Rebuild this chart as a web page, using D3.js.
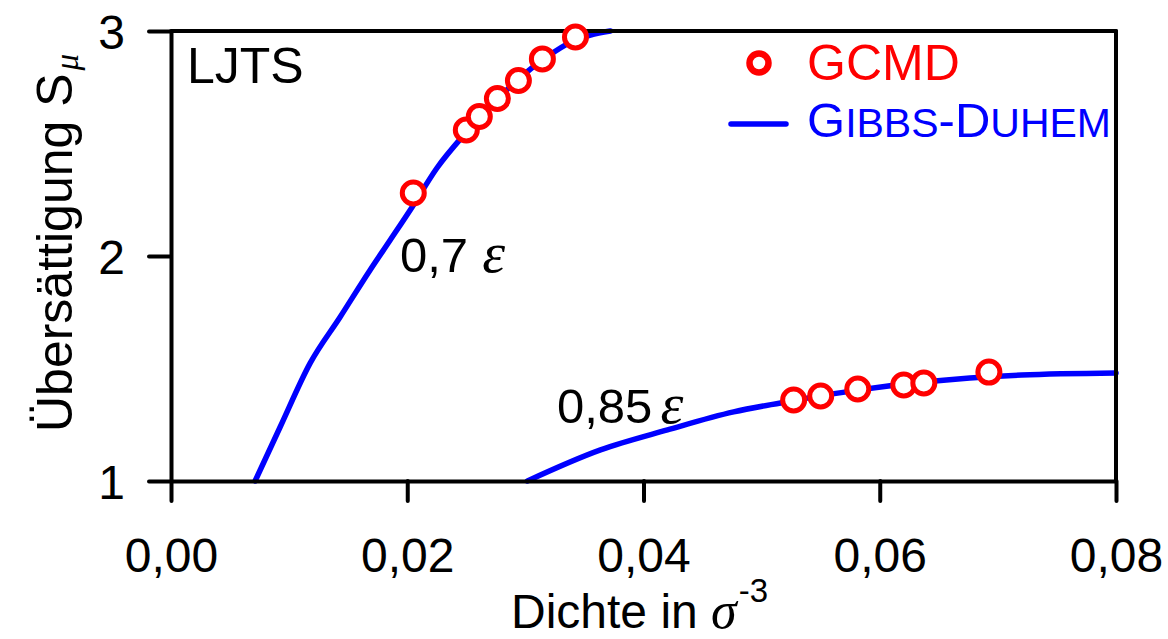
<!DOCTYPE html>
<html>
<head>
<meta charset="utf-8">
<script src="https://cdn.jsdelivr.net/npm/d3@7"></script>
<style>
  html, body { margin: 0; padding: 0; background: #fff; }
  svg { display: block; }
  text { font-family: "Liberation Sans", Arial, sans-serif; }
</style>
</head>
<body>
<svg id="chart" width="1168" height="639"></svg>
<script>
// Supersaturation vs. density, LJTS fluid, two temperatures
const xTicks = [0, 0.02, 0.04, 0.06, 0.08];
const yTicks = [1, 2, 3];

// Gibbs-Duhem integration, T = 0.7 epsilon
const gd07x = [0.00712, 0.00924, 0.01178, 0.01432, 0.01686, 0.01856, 0.02042, 0.0225, 0.0250, 0.02763, 0.03144, 0.03424, 0.03551, 0.0372];
const gd07y = [1.0, 1.24, 1.524, 1.729, 1.938, 2.071, 2.218, 2.39, 2.55, 2.698, 2.871, 2.96, 2.982, 3.0];

// Gibbs-Duhem integration, T = 0.85 epsilon
const gd085x = [0.03017, 0.03636, 0.04203, 0.04763, 0.0516, 0.0581, 0.0637, 0.0720, 0.0800];
const gd085y = [1.0, 1.138, 1.227, 1.307, 1.347, 1.404, 1.44, 1.471, 1.48];

// GCMD simulation results
const gcmd07x = [0.02051, 0.0250, 0.0261, 0.02763, 0.02941, 0.03144, 0.03424];
const gcmd07y = [2.28, 2.56, 2.62, 2.70, 2.78, 2.876, 2.973];
const gcmd085x = [0.05271, 0.0550, 0.05814, 0.06203, 0.06373, 0.06924];
const gcmd085y = [1.36, 1.378, 1.409, 1.427, 1.436, 1.484];

const svg = d3.select("#chart");
const plotL = 171, plotR = 1116, plotT = 31, plotB = 481;

const x = d3.scaleLinear().domain([0, 0.08]).range([plotL, plotR]);
const y = d3.scaleLinear().domain([1, 3]).range([plotB, plotT]);

const fmtX = d => d3.format(".2f")(d).replace(".", ",");

// curves
const line = d3.line().x(d => x(d[0])).y(d => y(d[1])).curve(d3.curveMonotoneX);
const series = [
  d3.zip(gd07x, gd07y),
  d3.zip(gd085x, gd085y)
];
svg.append("g").selectAll("path").data(series).join("path")
  .attr("d", line)
  .attr("fill", "none")
  .attr("stroke", "#0000ff")
  .attr("stroke-width", 5.5)
  .attr("stroke-linecap", "round")
  .attr("stroke-linejoin", "round");

// frame: top and right borders
const frame = svg.append("g").attr("stroke", "#000").attr("stroke-width", 4).attr("stroke-linecap", "round");
frame.append("line").attr("x1", plotL).attr("x2", plotR).attr("y1", plotT).attr("y2", plotT);
frame.append("line").attr("x1", plotR).attr("x2", plotR).attr("y1", plotT).attr("y2", plotB);

// x axis
const gx = svg.append("g").attr("transform", `translate(0,${plotB})`)
  .call(d3.axisBottom(x).tickValues(xTicks).tickFormat(fmtX).tickSize(20).tickSizeOuter(0));
gx.select(".domain").attr("stroke", "#000").attr("stroke-width", 4);
gx.selectAll(".tick line").attr("stroke", "#000").attr("stroke-width", 4).attr("stroke-linecap", "round");
gx.selectAll(".tick text")
  .attr("font-family", "Liberation Sans, Arial, sans-serif")
  .attr("font-size", 48).attr("fill", "#000")
  .attr("y", 91).attr("dy", null);

// y axis
const gy = svg.append("g").attr("transform", `translate(${plotL},0)`)
  .call(d3.axisLeft(y).tickValues(yTicks).tickFormat(d3.format("d")).tickSize(22).tickSizeOuter(0));
gy.select(".domain").attr("stroke", "#000").attr("stroke-width", 4);
gy.selectAll(".tick line").attr("stroke", "#000").attr("stroke-width", 4).attr("stroke-linecap", "round");
gy.selectAll(".tick text")
  .attr("font-family", "Liberation Sans, Arial, sans-serif")
  .attr("font-size", 48).attr("fill", "#000")
  .attr("x", -46).attr("dy", "0.36em");

// GCMD markers
const pts = d3.zip(gcmd07x, gcmd07y).concat(d3.zip(gcmd085x, gcmd085y));
svg.append("g").selectAll("circle").data(pts).join("circle")
  .attr("cx", d => x(d[0])).attr("cy", d => y(d[1])).attr("r", 11)
  .attr("fill", "#fff").attr("stroke", "#ff0000").attr("stroke-width", 5);

// axis titles
svg.append("text")
  .attr("x", 511).attr("y", 628)
  .attr("font-size", 48).attr("fill", "#000")
  .call(t => {
    t.append("tspan").text("Dichte in ");
    t.append("tspan").attr("font-family", "Liberation Serif, serif").attr("font-style", "italic")
      .attr("font-size", 52).text("σ");
    t.append("tspan").attr("font-size", 33).attr("dy", -26).attr("dx", 2).text("-3");
  });

svg.append("text")
  .attr("transform", "translate(72,432) rotate(-90)")
  .attr("font-size", 50).attr("fill", "#000")
  .call(t => {
    t.append("tspan").text("Übersättigung S");
    t.append("tspan").attr("font-family", "Liberation Serif, serif").attr("font-style", "italic")
      .attr("font-size", 33).attr("dy", 6).attr("dx", 3).text("μ");
  });

// annotations
svg.append("text").attr("x", 187).attr("y", 83).attr("font-size", 50).attr("fill", "#000").text("LJTS");

function tempLabel(tx, ty, value, gap) {
  const t = svg.append("text").attr("x", tx).attr("y", ty).attr("font-size", 49).attr("fill", "#000");
  t.append("tspan").text(value);
  t.append("tspan").attr("dx", gap).attr("font-family", "Liberation Serif, serif")
    .attr("font-style", "italic").attr("font-size", 58).text("ε");
}
tempLabel(400, 272, "0,7", 14);
tempLabel(557, 423, "0,85", 8);

// legend
const lg = svg.append("g");
lg.append("circle").attr("cx", 759).attr("cy", 63).attr("r", 9.5)
  .attr("fill", "#fff").attr("stroke", "#ff0000").attr("stroke-width", 6.5);
lg.append("text").attr("x", 807).attr("y", 80).attr("font-size", 50).attr("fill", "#ff0000").text("GCMD");
lg.append("line").attr("x1", 731).attr("x2", 786).attr("y1", 124).attr("y2", 124)
  .attr("stroke", "#0000ff").attr("stroke-width", 5.5).attr("stroke-linecap", "round");
lg.append("text").attr("x", 807).attr("y", 137).attr("font-size", 49).attr("fill", "#0000ff")
  .call(t => {
    t.append("tspan").text("G");
    t.append("tspan").attr("font-size", 41).text("IBBS");
    t.append("tspan").text("-D");
    t.append("tspan").attr("font-size", 41).text("UHEM");
  });
</script>
</body>
</html>
